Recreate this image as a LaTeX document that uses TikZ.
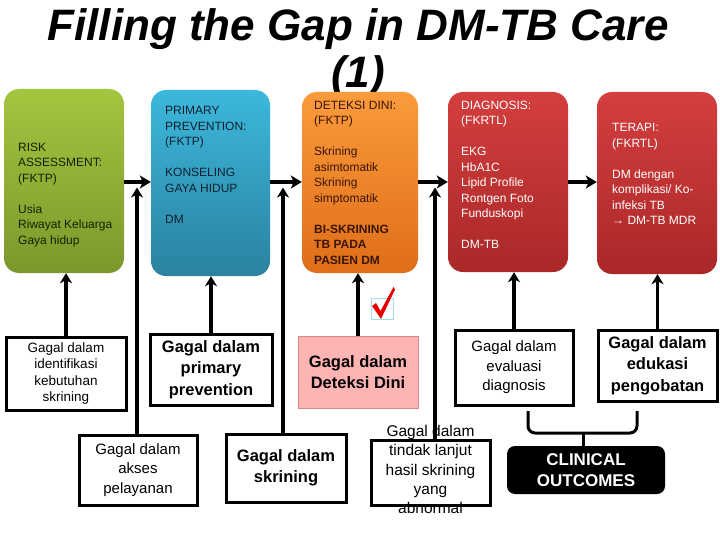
\documentclass[tikz,border=0pt]{standalone}
\usepackage{fontspec}
\setmainfont{Liberation Sans}
\usetikzlibrary{arrows.meta}
\definecolor{gTop}{HTML}{A3C53F}
\definecolor{gBot}{HTML}{7A982B}
\definecolor{bTop}{HTML}{3CB8DC}
\definecolor{bBot}{HTML}{2A82A0}
\definecolor{oTop}{HTML}{FA9B3C}
\definecolor{oBot}{HTML}{E06D19}
\definecolor{rTop}{HTML}{D43E3E}
\definecolor{rBot}{HTML}{AA2828}
\definecolor{pinkFill}{HTML}{FFB4B4}
\definecolor{pinkLine}{HTML}{D98888}
\definecolor{oText}{HTML}{3A1500}
\definecolor{gText}{HTML}{142000}
\definecolor{bText}{HTML}{0E2030}
\definecolor{chkFrame}{HTML}{9FE0EA}
\begin{document}
\begin{tikzpicture}[x=1pt,y=-1pt,
  topbox/.style={rounded corners=15pt, inner sep=0pt},
  boxtext/.style={anchor=north west, align=left, inner sep=0pt, font=\fontsize{12}{15.5}\selectfont},
  gbox/.style={draw=black, line width=3pt, fill=white, align=center, inner sep=0pt},
  nfont/.style={font=\fontsize{15}{19.5}\selectfont},
  sfont/.style={font=\fontsize{13.5}{16.5}\selectfont},
  bfont/.style={font=\fontsize{16.5}{21.5}\selectfont\bfseries},
  harr/.style={line width=4pt, -{Stealth[length=11pt,width=13pt,inset=3pt]}},
  varr/.style={line width=3.3pt, -{Stealth[length=10pt,width=12pt,inset=3pt]}},
  bracepath/.style={line width=3pt, rounded corners=7pt}
]
\useasboundingbox (0,0) rectangle (720,540);

% title
\node[anchor=north, align=center, inner sep=0pt,
      font=\fontsize{44}{47}\selectfont\bfseries\itshape] (title) at (358,8)
      {Filling the Gap in DM-TB Care\\(1)};

% top boxes
\node[topbox, minimum width=120pt, minimum height=184pt, top color=gTop, bottom color=gBot] (green) at (64,181) {};
\node[topbox, minimum width=119pt, minimum height=186pt, top color=bTop, bottom color=bBot] (blue) at (210.5,183) {};
\node[topbox, minimum width=116pt, minimum height=181pt, top color=oTop, bottom color=oBot] (orange) at (360,182.5) {};
\node[topbox, minimum width=120pt, minimum height=180pt, top color=rTop, bottom color=rBot] (diag) at (508,182) {};
\node[topbox, minimum width=120pt, minimum height=182pt, top color=rTop, bottom color=rBot] (terapi) at (657,183) {};

% top box texts
\node[boxtext, text=gText] (greentext) at (18,142.5)
  {RISK\\ASSESSMENT:\\(FKTP)\\[15.5pt]Usia\\Riwayat Keluarga\\Gaya hidup};
\node[boxtext, text=bText] (bluetext) at (165,106.5)
  {PRIMARY\\PREVENTION:\\(FKTP)\\[15.5pt]KONSELING\\GAYA HIDUP\\[15.5pt]DM};
\node[boxtext, text=oText] (orangetext) at (314,100.5)
  {DETEKSI DINI:\\(FKTP)\\[15.5pt]Skrining\\asimtomatik\\Skrining\\simptomatik\\[15.5pt]\textbf{BI-SKRINING}\\\textbf{TB PADA}\\\textbf{PASIEN DM}};
\node[boxtext, text=white] (diagtext) at (461,100.5)
  {DIAGNOSIS:\\(FKRTL)\\[15.5pt]EKG\\HbA1C\\Lipid Profile\\Rontgen Foto\\Funduskopi\\[15.5pt]DM-TB};
\node[boxtext, text=white] (terapitext) at (612,123.5)
  {TERAPI:\\(FKRTL)\\[15.5pt]DM dengan\\komplikasi/ Ko-\\infeksi TB\\→ DM-TB MDR};

% bottom boxes
\node[gbox, sfont, minimum width=120pt, minimum height=73pt] (ident) at (66,373.5)
  {Gagal dalam\\identifikasi\\kebutuhan\\skrining};
\node[gbox, bfont, minimum width=122pt, minimum height=71pt] (prim) at (211,369.5)
  {Gagal dalam\\primary\\prevention};
\node[draw=pinkLine, line width=0.8pt, fill=pinkFill, align=center, inner sep=0pt, bfont,
      minimum width=120pt, minimum height=72pt] (detek) at (358,372)
  {Gagal dalam\\Deteksi Dini};
\node[gbox, nfont, minimum width=118pt, minimum height=75pt] (eval) at (514,367.5)
  {Gagal dalam\\evaluasi\\diagnosis};
\node[gbox, bfont, minimum width=119pt, minimum height=71pt] (eduk) at (657.5,365.5)
  {Gagal dalam\\edukasi\\pengobatan};
\node[gbox, nfont, minimum width=118pt, minimum height=70pt] (akses) at (138,470)
  {Gagal dalam\\akses\\pelayanan};
\node[gbox, bfont, minimum width=120pt, minimum height=68pt] (skrin) at (286,468)
  {Gagal dalam\\skrining};
\node[gbox, minimum width=119pt, minimum height=65pt] (tl) at (430.5,472.5) {};
\node[fill=black, rounded corners=8pt, minimum width=158pt, minimum height=48pt,
      text=white, align=center, inner sep=0pt, font=\fontsize{17}{21}\selectfont\bfseries] (clin) at (586,470)
  {CLINICAL\\OUTCOMES};

% horizontal arrows between top boxes
\coordinate (hy) at (0,182);
\draw[harr] (green.east |- hy) -- (blue.west |- hy);
\draw[harr] (blue.east |- hy) -- (orange.west |- hy);
\draw[harr] (orange.east |- hy) -- (diag.west |- hy);
\draw[harr] (diag.east |- hy) -- (terapi.west |- hy);

% short vertical arrows
\draw[varr] (ident.north) -- (ident.north |- green.south);
\draw[varr] (prim.north) -- (prim.north |- blue.south);
\draw[varr] (detek.north) -- (detek.north |- orange.south);
\draw[varr] (eval.north) -- (eval.north |- diag.south);
\draw[varr] (eduk.north) -- (eduk.north |- terapi.south);

% long vertical arrows to the horizontal connectors
\coordinate (tipA) at (137,187.5);
\coordinate (tipB) at (283,187.5);
\coordinate (tipC) at (435,187.5);
\draw[varr] (akses.north -| tipA) -- (tipA);
\draw[varr] (skrin.north -| tipB) -- (tipB);
\draw[varr] (tl.north -| tipC) -- (tipC);

% text of the tindak lanjut box (overflows its frame)
\node[align=center, inner sep=0pt, font=\fontsize{15.5}{19.25}\selectfont] (tltext) at (430.5,469.5)
  {Gagal dalam\\tindak lanjut\\hasil skrining\\yang\\abnormal};

% brace towards clinical outcomes
\coordinate (brL) at (528,411);
\coordinate (brR) at (637,411);
\coordinate (brM) at (583,433);
\draw[bracepath] (brL) -- (528,433) -- (637,433) -- (brR);
\draw[line width=3pt] (brM) -- (brM |- clin.north);

% check mark icon
\draw[chkFrame, line width=0.9pt] (371,298) rectangle (393,319);
\fill[red!90!black] (372,306) -- (376,303) -- (380.5,311) -- (393.5,287) -- (395,289.5) -- (381,319) -- cycle;
\end{tikzpicture}
\end{document}
